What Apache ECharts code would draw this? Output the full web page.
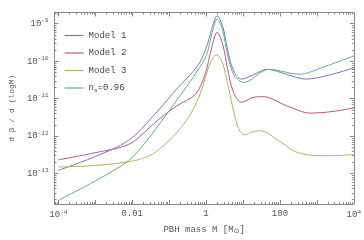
<!DOCTYPE html>
<html><head><meta charset="utf-8">
<script src="https://cdn.jsdelivr.net/npm/echarts@6/dist/echarts.min.js"></script>
<style>html,body{margin:0;padding:0;background:#fff}#c{width:364px;height:240px}</style>
</head><body><div id="c"></div>
<script>
// log10(M / Msun), log10(d beta / d logM)
const model1 = [[-4.0,-12.92],[-3.0,-12.55],[-2.1,-12.12],[-1.45,-11.49],[-0.8,-10.75],[-0.24,-10.14],[-0.01,-9.68],[0.15,-9.16],[0.30,-8.79],[0.45,-9.07],[0.58,-9.68],[0.75,-10.27],[0.96,-10.48],[1.27,-10.37],[1.66,-10.22],[2.2,-10.36],[2.7,-10.48],[3.3,-10.38],[4.0,-10.18]];
const model2 = [[-4.0,-12.64],[-3.06,-12.46],[-2.1,-12.23],[-1.6,-11.84],[-1.25,-11.53],[-0.8,-11.2],[-0.29,-10.89],[-0.03,-10.36],[0.15,-9.65],[0.30,-9.23],[0.45,-9.55],[0.58,-10.2],[0.75,-10.85],[0.97,-11.10],[1.27,-10.97],[1.53,-10.95],[2.2,-11.2],[2.83,-11.39],[3.4,-11.35],[4.0,-11.25]];
const model3 = [[-4.0,-12.83],[-3.0,-12.79],[-2.1,-12.69],[-1.6,-12.56],[-1.3,-12.38],[-1.0,-12.12],[-0.7,-11.8],[-0.4,-11.38],[-0.15,-10.85],[0.05,-10.22],[0.18,-9.92],[0.30,-9.83],[0.42,-9.98],[0.55,-10.45],[0.68,-11.05],[0.8,-11.55],[0.92,-11.88],[1.06,-11.97],[1.22,-11.9],[1.45,-11.86],[2.0,-12.15],[2.49,-12.45],[3.26,-12.53],[4.0,-12.50]];
const nsModel = [[-4.0,-13.72],[-3.03,-13.22],[-2.1,-12.66],[-1.6,-12.12],[-1.12,-11.49],[-0.65,-10.85],[-0.24,-10.27],[0.01,-9.84],[0.15,-9.3],[0.30,-8.88],[0.45,-9.18],[0.58,-9.83],[0.75,-10.37],[0.93,-10.54],[1.01,-10.57],[1.71,-10.22],[2.52,-10.35],[3.2,-10.15],[4.0,-9.86]];
const seriesNames = ['Model 1','Model 2','Model 3','n_s=0.96'];
const seriesColors = ['#7676c6','#b05a8e','#bcae62','#5cb47e'];
const xRange = [-4.104, 4.0];
const yRange = [-13.82, -8.70];

const chart = echarts.init(document.getElementById('c'), null, {renderer:'canvas'});
const FONT = '"Liberation Mono", "DejaVu Sans Mono", monospace';
const axisCol = '#8a8a8a';
const txtCol = '#555';

function near(v){ return Math.abs(v - Math.round(v)) < 1e-6; }
function sup(n){ return '{b|10}{s|' + n + '}'; }

// minor log ticks (k = 2..9 inside each decade)
const minorTicks = [];
for (let d = -5; d <= 4; d++) for (let k = 2; k <= 9; k++) {
  const v = d + Math.log10(k);
  if (v > xRange[0] && v < xRange[1]) minorTicks.push([v, yRange[0], 0]);
}
for (let d = -14; d <= -9; d++) for (let k = 2; k <= 9; k++) {
  const v = d + Math.log10(k);
  if (v > yRange[0] && v < yRange[1]) minorTicks.push([xRange[0], v, 1]);
}

const richLbl = {
  b:{fontFamily:FONT,fontSize:9,color:txtCol},
  s:{fontFamily:FONT,fontSize:6,color:txtCol,verticalAlign:'bottom',padding:[0,0,6,0]}
};
function xFmt(v){
  if (!near(v)) return '';
  const n = Math.round(v);
  if (n % 2 !== 0) return '';
  if (n === -4 || n === 4) return sup(n);
  return '{b|' + String(Math.pow(10, n)) + '}';
}
function yFmt(v){ if (!near(v)) return ''; return sup(Math.round(v)); }

const baseX = {type:'value', min:xRange[0], max:xRange[1], minInterval:1, maxInterval:1,
  axisLine:{show:true, onZero:false, lineStyle:{color:axisCol, width:1}}, splitLine:{show:false},
  axisTick:{show:true, inside:true, length:4, lineStyle:{color:axisCol}}};
const baseY = {type:'value', min:yRange[0], max:yRange[1], minInterval:1, maxInterval:1,
  axisLine:{show:true, onZero:false, lineStyle:{color:axisCol, width:1}}, splitLine:{show:false},
  axisTick:{show:true, inside:true, length:4, lineStyle:{color:axisCol}}};

const lineSeries = [model1, model2, model3, nsModel].map((d, i) => ({
  name: seriesNames[i], type:'line', data:d, smooth:0.35, symbol:'none',
  lineStyle:{width:1, color:seriesColors[i]}, itemStyle:{color:seriesColors[i]}, z:3
}));

chart.setOption({
  animation:false,
  grid:{left:43, right:9, top:12.5, bottom:30.5, containLabel:false},
  xAxis:[
    Object.assign({}, baseX, {position:'bottom',
      axisLabel:{show:true, margin:5, showMinLabel:false, formatter:xFmt, rich:richLbl},
      name:'PBH mass M [M{sub|⊙}]', nameLocation:'middle', nameGap:20,
      nameTextStyle:{fontFamily:FONT, fontSize:9, color:txtCol,
        rich:{sub:{fontFamily:'DejaVu Sans', fontSize:7, color:txtCol, verticalAlign:'top', padding:[4,0,0,0]}}}}),
    Object.assign({}, baseX, {position:'top', axisLabel:{show:false}})
  ],
  yAxis:[
    Object.assign({}, baseY, {position:'left',
      axisLabel:{show:true, margin:6, showMinLabel:false, showMaxLabel:false, formatter:yFmt, rich:richLbl},
      name:'d β / d (logM)', nameLocation:'middle', nameGap:37,
      nameTextStyle:{fontFamily:FONT, fontSize:8, color:txtCol}}),
    Object.assign({}, baseY, {position:'right', axisLabel:{show:false}})
  ],
  legend:{
    data:seriesNames, orient:'vertical', left:59, top:26, itemWidth:19, itemHeight:9, itemGap:8.5,
    itemStyle:{opacity:0}, lineStyle:{width:1.2},
    textStyle:{fontFamily:FONT, fontSize:9, color:'#444',
      rich:{sub:{fontFamily:FONT, fontSize:6, color:'#444', verticalAlign:'top', padding:[5,0,0,0]}}},
    formatter: n => n === 'n_s=0.96' ? 'n{sub|s}=0.96' : n
  },
  series: lineSeries.concat([{
    type:'custom', silent:true, clip:false, z:2, data:minorTicks,
    renderItem:(params, api) => {
      const cs = params.coordSys;
      const p = api.coord([api.value(0), api.value(1)]);
      const st = {stroke:axisCol, lineWidth:1};
      if (api.value(2) === 0) {
        const x = Math.round(p[0]) + 0.5;
        return {type:'group', children:[
          {type:'line', shape:{x1:x, y1:cs.y+cs.height, x2:x, y2:cs.y+cs.height-2}, style:st},
          {type:'line', shape:{x1:x, y1:cs.y, x2:x, y2:cs.y+2}, style:st}]};
      }
      const y = Math.round(p[1]) + 0.5;
      return {type:'group', children:[
        {type:'line', shape:{x1:cs.x, y1:y, x2:cs.x+2, y2:y}, style:st},
        {type:'line', shape:{x1:cs.x+cs.width, y1:y, x2:cs.x+cs.width-2, y2:y}, style:st}]};
    }
  }])
});
</script></body></html>
